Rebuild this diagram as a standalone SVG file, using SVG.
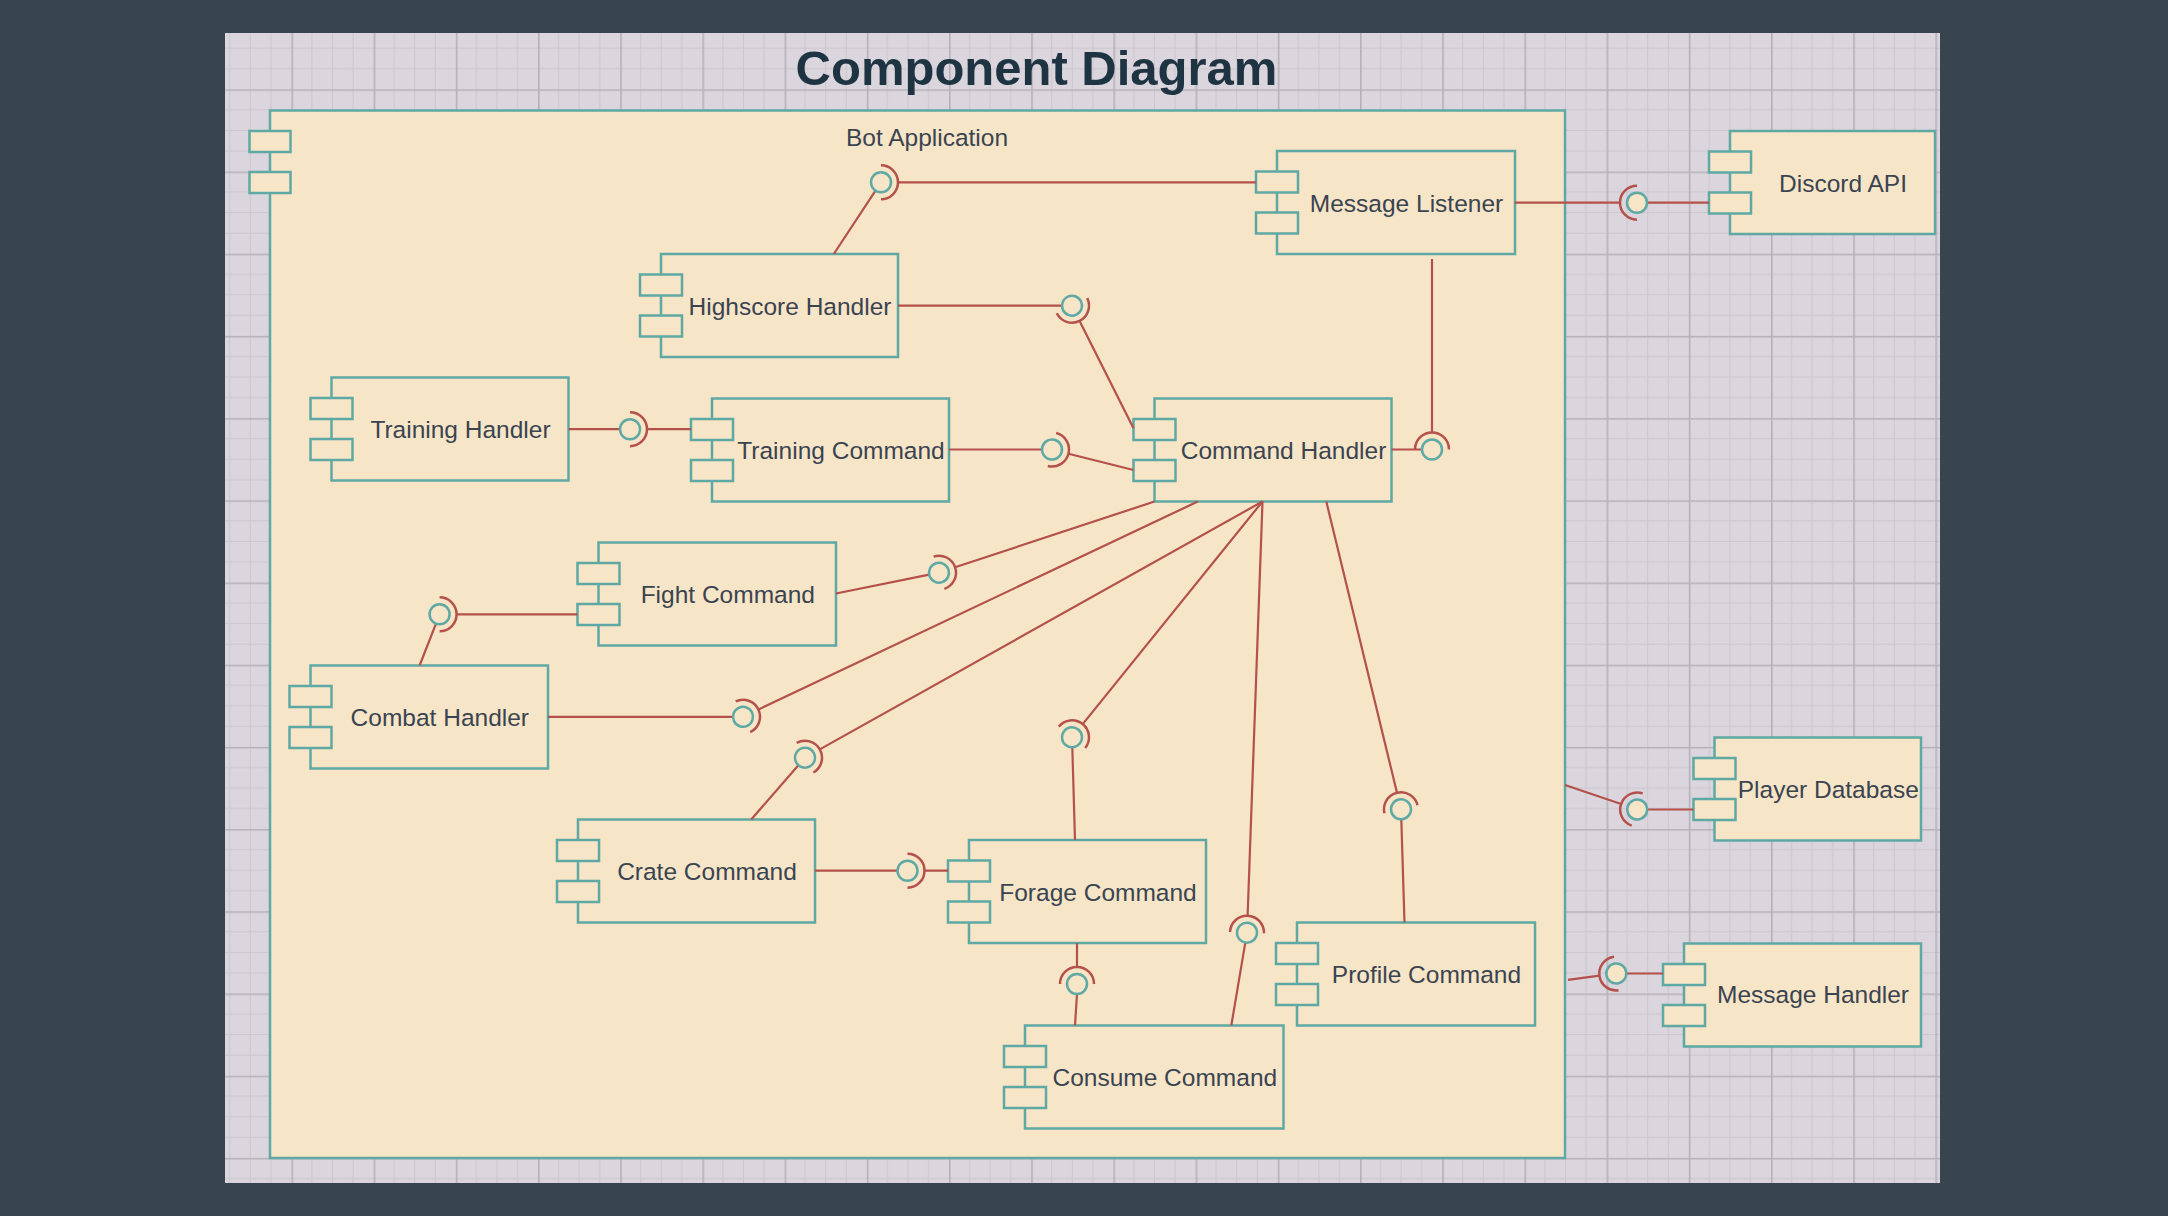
<svg xmlns="http://www.w3.org/2000/svg" xmlns:xlink="http://www.w3.org/1999/xlink" width="2168" height="1216" viewBox="0 0 2168 1216">
<style>
.box{fill:#f7e5c8;stroke:#5fa9a4;stroke-width:2.5}
.lbl{font-family:"Liberation Sans",Arial,sans-serif;font-size:24.5px;fill:#3a4450;text-anchor:middle}
.wire{stroke:#b3514a;stroke-width:2.2;fill:none}
.ball{fill:#f7e5c8;stroke:#5fa9a4;stroke-width:2.5}
.sock{fill:none;stroke:#b3514a;stroke-width:2.5}
</style>
<defs>
<pattern id="grid" patternUnits="userSpaceOnUse" x="209.2" y="7.1" width="82.2" height="82.2">
<rect width="82.2" height="82.2" fill="#dbd5dd"/>
<path d="M20.55,0V82.2M41.1,0V82.2M61.65,0V82.2M0,20.55H82.2M0,41.1H82.2M0,61.65H82.2" stroke="#ccc6ce" stroke-width="1"/>
<path d="M0.8,0V82.2M0,0.8H82.2" stroke="#b6b0b8" stroke-width="1.6"/>
</pattern>
<g id="ls"><circle r="10" class="ball"/><path d="M0,-17A17,17 0 0 1 0,17" class="sock"/></g>
</defs>
<rect width="2168" height="1216" fill="#38454f"/>
<rect x="225" y="33" width="1715" height="1150" fill="url(#grid)"/>
<text x="1036.5" y="85" font-family="'Liberation Sans',Arial,sans-serif" font-weight="bold" font-size="49" fill="#1f3443" text-anchor="middle">Component Diagram</text>

<g id="bot-application">
<rect class="box" x="270" y="110.5" width="1295" height="1047.5"/>
<rect class="box" x="249.5" y="131" width="41" height="21"/>
<rect class="box" x="249.5" y="172" width="41" height="21"/>
<text class="lbl" x="927" y="146">Bot Application</text>
</g>

<g id="message-listener"><rect class="box" x="1277" y="151" width="238" height="103"/><rect class="box" x="1256" y="171.5" width="42" height="21"/><rect class="box" x="1256" y="212.5" width="42" height="21"/><text class="lbl" x="1406.5" y="211.5">Message Listener</text></g>
<g id="discord-api"><rect class="box" x="1730" y="131" width="205" height="103"/><rect class="box" x="1709" y="151.5" width="42" height="21"/><rect class="box" x="1709" y="192.5" width="42" height="21"/><text class="lbl" x="1843" y="191.5">Discord API</text></g>
<g id="highscore-handler"><rect class="box" x="661" y="254" width="237" height="103"/><rect class="box" x="640" y="274.5" width="42" height="21"/><rect class="box" x="640" y="315.5" width="42" height="21"/><text class="lbl" x="790" y="314.5">Highscore Handler</text></g>
<g id="training-handler"><rect class="box" x="331.5" y="377.5" width="237" height="103"/><rect class="box" x="310.5" y="398" width="42" height="21"/><rect class="box" x="310.5" y="439" width="42" height="21"/><text class="lbl" x="460.5" y="438">Training Handler</text></g>
<g id="training-command"><rect class="box" x="712" y="398.5" width="237" height="103"/><rect class="box" x="691" y="419" width="42" height="21"/><rect class="box" x="691" y="460" width="42" height="21"/><text class="lbl" x="841" y="459">Training Command</text></g>
<g id="command-handler"><rect class="box" x="1154.5" y="398.5" width="237" height="103"/><rect class="box" x="1133.5" y="419" width="42" height="21"/><rect class="box" x="1133.5" y="460" width="42" height="21"/><text class="lbl" x="1283.5" y="459">Command Handler</text></g>
<g id="fight-command"><rect class="box" x="598.5" y="542.5" width="237.5" height="103"/><rect class="box" x="577.5" y="563" width="42" height="21"/><rect class="box" x="577.5" y="604" width="42" height="21"/><text class="lbl" x="727.8" y="603">Fight Command</text></g>
<g id="combat-handler"><rect class="box" x="310.5" y="665.5" width="237.5" height="103"/><rect class="box" x="289.5" y="686" width="42" height="21"/><rect class="box" x="289.5" y="727" width="42" height="21"/><text class="lbl" x="439.8" y="726">Combat Handler</text></g>
<g id="crate-command"><rect class="box" x="578" y="819.5" width="237" height="103"/><rect class="box" x="557" y="840" width="42" height="21"/><rect class="box" x="557" y="881" width="42" height="21"/><text class="lbl" x="707" y="880">Crate Command</text></g>
<g id="forage-command"><rect class="box" x="969" y="840" width="237" height="103"/><rect class="box" x="948" y="860.5" width="42" height="21"/><rect class="box" x="948" y="901.5" width="42" height="21"/><text class="lbl" x="1098" y="900.5">Forage Command</text></g>
<g id="consume-command"><rect class="box" x="1025" y="1025.5" width="258.5" height="103"/><rect class="box" x="1004" y="1046" width="42" height="21"/><rect class="box" x="1004" y="1087" width="42" height="21"/><text class="lbl" x="1164.8" y="1086">Consume Command</text></g>
<g id="profile-command"><rect class="box" x="1297" y="922.5" width="238" height="103"/><rect class="box" x="1276" y="943" width="42" height="21"/><rect class="box" x="1276" y="984" width="42" height="21"/><text class="lbl" x="1426.5" y="983">Profile Command</text></g>
<g id="player-database"><rect class="box" x="1714.5" y="737.5" width="206.5" height="103"/><rect class="box" x="1693.5" y="758" width="42" height="21"/><rect class="box" x="1693.5" y="799" width="42" height="21"/><text class="lbl" x="1828.3" y="798">Player Database</text></g>
<g id="message-handler"><rect class="box" x="1684" y="943.5" width="237" height="103"/><rect class="box" x="1663" y="964" width="42" height="21"/><rect class="box" x="1663" y="1005" width="42" height="21"/><text class="lbl" x="1813" y="1003">Message Handler</text></g>

<g id="connectors">
<path class="wire" d="M1620,202.7H1514.7M1647,202.7H1709"/>
<path class="wire" d="M898,182.3H1256M875.5,190.7L833.8,254"/>
<path class="wire" d="M1079.6,320.9L1133.5,428.3M898,305.7H1062"/>
<path class="wire" d="M568.5,429.2H620M647,429.2H691"/>
<path class="wire" d="M1068.5,453.7L1133.5,470M949,449.5H1042"/>
<path class="wire" d="M1391.5,449.5H1422M1432,432.5V259"/>
<path class="wire" d="M955.1,567.3L1154.5,501.5M836,593.5L929.2,574.7"/>
<path class="wire" d="M758.4,709.5L1197.8,501.5M548,716.8H733"/>
<path class="wire" d="M819.8,749.4L1262.5,501.5M798.4,765.2L751.2,819.5"/>
<path class="wire" d="M1082.7,724.1L1262.5,501.5M1072.3,747.3L1075,840"/>
<path class="wire" d="M1247.6,915.7L1262.5,501.5M1245.3,942.6L1231.3,1025.5"/>
<path class="wire" d="M1397,792.8L1326.3,501.5M1401.3,819.3L1404.5,922.5"/>
<path class="wire" d="M456.6,614.3H577.5M436,623.6L419.6,665.5"/>
<path class="wire" d="M815,870.7H897.5M924.5,870.7H948"/>
<path class="wire" d="M1077,967V943M1077,994L1075,1025.5"/>
<path class="wire" d="M1621.1,804L1565,785M1647.2,809.5H1693.5"/>
<path class="wire" d="M1599.4,975.7L1568,979.9M1626.3,973.5H1663"/>
<use xlink:href="#ls" transform="translate(1637,202.7) rotate(180)"/>
<use xlink:href="#ls" transform="translate(881,182.3)"/>
<use xlink:href="#ls" transform="translate(1072,305.7) rotate(63.5)"/>
<use xlink:href="#ls" transform="translate(630,429.2)"/>
<use xlink:href="#ls" transform="translate(1052,449.5) rotate(14.3)"/>
<use xlink:href="#ls" transform="translate(1432,449.5) rotate(-90)"/>
<use xlink:href="#ls" transform="translate(939,572.7) rotate(-18.4)"/>
<use xlink:href="#ls" transform="translate(743,716.8) rotate(-25.4)"/>
<use xlink:href="#ls" transform="translate(805,757.7) rotate(-29.3)"/>
<use xlink:href="#ls" transform="translate(1072,737.3) rotate(-51.1)"/>
<use xlink:href="#ls" transform="translate(1247,932.7) rotate(-87.9)"/>
<use xlink:href="#ls" transform="translate(1401,809.3) rotate(-103.6)"/>
<use xlink:href="#ls" transform="translate(439.6,614.3)"/>
<use xlink:href="#ls" transform="translate(907.5,870.7)"/>
<use xlink:href="#ls" transform="translate(1077,984) rotate(-90)"/>
<use xlink:href="#ls" transform="translate(1637.2,809.5) rotate(-161.2)"/>
<use xlink:href="#ls" transform="translate(1616.3,973.5) rotate(172.4)"/>
</g>
</svg>
